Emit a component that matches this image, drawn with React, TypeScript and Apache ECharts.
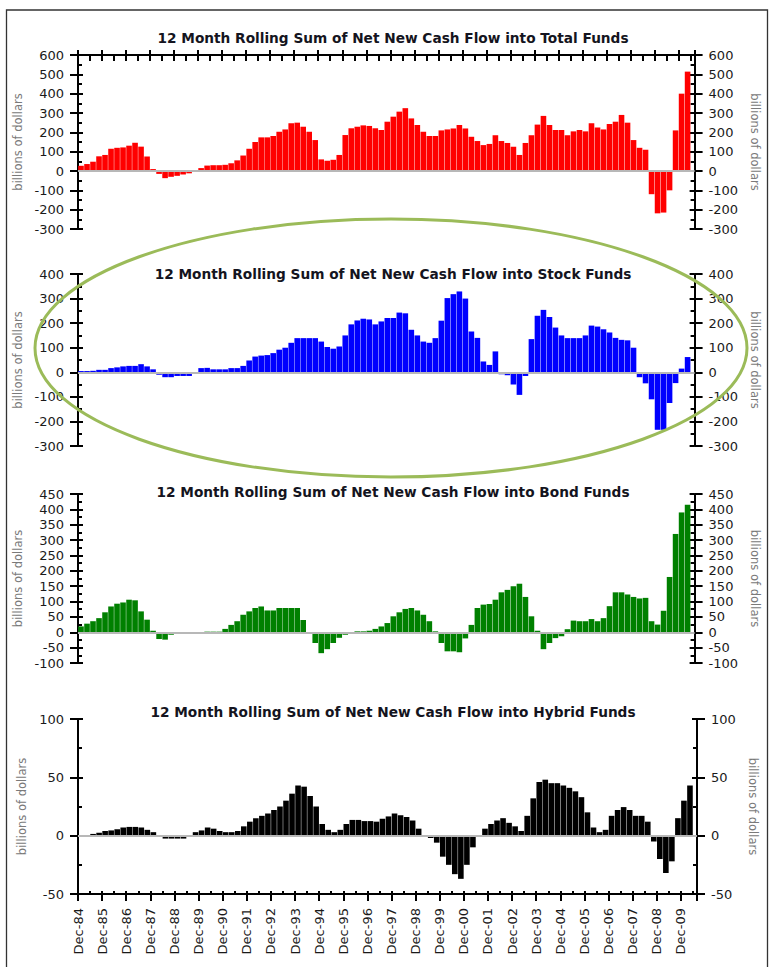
import React, { useEffect, useRef } from 'react';
import * as echarts from 'echarts';

// Quarterly readings, starting with the quarter after Dec-84 (billions of dollars)
const totalFunds = [
  27, 36, 48, 76, 83, 115, 120, 122, 131, 146,
  126, 75, 10, -15, -37, -30, -25, -18, -12, -5,
  15, 28, 30, 30, 32, 40, 55, 80, 115, 150,
  174, 174, 181, 203, 215, 247, 250, 229, 203, 160,
  60, 53, 58, 83, 186, 221, 229, 236, 233, 221,
  212, 255, 281, 307, 325, 272, 238, 203, 181, 181,
  210, 215, 220, 238, 220, 177, 155, 134, 140, 185,
  155, 145, 126, 83, 145, 185, 240, 285, 238, 212,
  212, 185, 205, 212, 205, 247, 225, 215, 243, 255,
  290, 250, 160, 120, 110, -120, -219, -215, -100, 210,
  400, 514,
];
const stockFunds = [
  5, 5, 6, 10, 10, 17, 20, 24, 26, 26,
  33, 24, 12, -10, -20, -20, -15, -15, -15, -5,
  17, 18, 12, 12, 12, 17, 17, 26, 48, 64,
  68, 70, 78, 92, 100, 120, 139, 139, 139, 139,
  125, 103, 96, 105, 150, 195, 211, 218, 215, 195,
  207, 221, 221, 243, 240, 173, 150, 125, 120, 139,
  210, 302, 318, 329, 300, 166, 140, 44, 30, 85,
  -8, -12, -50, -92, -15, 135, 230, 254, 225, 182,
  150, 139, 139, 139, 150, 190, 186, 175, 162, 140,
  132, 130, 100, -20, -45, -110, -234, -234, -125, -44,
  15, 62,
];
const bondFunds = [
  19, 28, 36, 46, 65, 84, 93, 97, 106, 104,
  68, 41, 5, -22, -24, -8, -5, -5, -2, -4,
  0, 2, 2, 2, 11, 24, 36, 57, 68, 79,
  84, 71, 71, 79, 79, 79, 79, 40, 0, -35,
  -68, -55, -35, -18, -8, -2, 3, 3, 5, 11,
  19, 30, 52, 65, 76, 79, 71, 57, 36, 3,
  -35, -62, -62, -65, -20, 24, 79, 90, 92, 106,
  130, 138, 150, 158, 115, 52, 5, -55, -35, -19,
  -13, 10, 38, 36, 36, 43, 36, 46, 85, 130,
  130, 123, 115, 110, 112, 36, 25, 70, 180, 320,
  390, 415,
];
const hybridFunds = [
  0, 0.5, 1.5, 2.5, 4, 4.5, 5.5, 7, 7.5, 7.5,
  7, 5, 3, 0.5, -2.5, -2.5, -2.5, -2.5, -1, 3,
  4.5, 7, 6, 4, 3, 3, 4, 8, 12, 15,
  17, 19, 22, 25, 30, 36, 43, 42, 34, 25,
  10, 5, 3, 5, 10, 13.5, 13.5, 12.5, 12.5, 12,
  14.5, 16.5, 19, 17.5, 16, 13, 6, 0, -2, -6,
  -18, -25, -33, -37, -25, -10, 0, 6, 10, 13,
  15, 11, 8, 4, 17, 32, 46, 48, 45, 45,
  43, 41, 38, 33, 20, 7, 3, 5, 17, 22,
  24.5, 22, 17, 17, 12, -5, -20, -32, -22, 15,
  30, 43,
];

const titles = [
  '12 Month Rolling Sum of Net New Cash Flow into Total Funds',
  '12 Month Rolling Sum of Net New Cash Flow into Stock Funds',
  '12 Month Rolling Sum of Net New Cash Flow into Bond Funds',
  '12 Month Rolling Sum of Net New Cash Flow into Hybrid Funds',
];
const yRanges = [
  [-300, 600, 100],
  [-300, 400, 100],
  [-100, 450, 50],
  [-50, 100, 50],
];
const axisName = 'billions of dollars';
const monthsSpan = 308; // Dec-84 .. mid-2010 in months
const firstYear = 84;

const FONT = 'DejaVu Sans';

const panels = [
  { data: totalFunds, color: '#ff0000', top: 55, height: 174, right: 72, titleTop: 26, xMode: 'top' },
  { data: stockFunds, color: '#0000ff', top: 274, height: 172, right: 71, titleTop: 262, xMode: 'none' },
  { data: bondFunds, color: '#008000', top: 494, height: 169, right: 72, titleTop: 480, xMode: 'none' },
  { data: hybridFunds, color: '#000000', top: 719, height: 175, right: 72, titleTop: 700, xMode: 'bottom' },
];

function buildOption() {
  const grid: any[] = [];
  const xAxis: any[] = [];
  const yAxis: any[] = [];
  const series: any[] = [];
  const title: any[] = [];

  const black = { color: '#000', width: 2 };

  panels.forEach((p, pi) => {
    grid.push({ left: 78, right: p.right, top: p.top, height: p.height, containLabel: false });
    title.push({
      text: titles[pi],
      left: 388,
      top: p.titleTop,
      textAlign: 'center',
      textStyle: { fontFamily: FONT, fontSize: 13.7, fontWeight: 'bold', color: '#141420' },
    });

    const [yMin, yMax, yInt] = yRanges[pi];
    const mainX = xAxis.length;
    const xBase = {
      type: 'value',
      gridIndex: pi,
      min: 0,
      max: monthsSpan,
      interval: 12,
      splitLine: { show: false },
    };
    if (p.xMode === 'none') {
      xAxis.push({ ...xBase, show: false });
    } else {
      const pos = p.xMode === 'top' ? 'top' : 'bottom';
      xAxis.push({
        ...xBase,
        position: pos,
        axisLine: { show: true, onZero: false, lineStyle: black },
        axisTick: { show: true, inside: false, length: pos === 'top' ? 5 : 7, lineStyle: black },
        minorTick: { show: false },
        axisLabel:
          pos === 'bottom'
            ? {
                show: true,
                rotate: 90,
                margin: 14,
                fontFamily: FONT,
                fontSize: 13,
                color: '#1a1a1a',
                formatter: (v: number) => {
                  if (v % 12 !== 0) return '';
                  const yy = (firstYear + v / 12) % 100;
                  return 'Dec-' + String(yy).padStart(2, '0');
                },
              }
            : { show: false },
      });
      xAxis.push({
        ...xBase,
        position: pos,
        axisLine: { show: false, onZero: false },
        axisTick: { show: true, inside: true, length: pos === 'top' ? 6 : 3, lineStyle: black },
        minorTick: { show: true, splitNumber: 2, length: pos === 'top' ? 6 : 3, lineStyle: black },
        axisLabel: { show: false },
      });
    }

    const mainY = yAxis.length;
    const yBase = {
      type: 'value',
      gridIndex: pi,
      min: yMin,
      max: yMax,
      interval: yInt,
      splitLine: { show: false },
    };
    const labelStyle = { fontFamily: FONT, fontSize: 13, color: '#1a1a1a', margin: 14 };
    const nameStyle = { fontFamily: FONT, fontSize: 11.5, color: '#7a7a7a' };
    // left outer
    yAxis.push({
      ...yBase,
      position: 'left',
      axisLine: { show: true, onZero: false, lineStyle: black },
      axisTick: { show: true, inside: false, length: 8, lineStyle: black },
      minorTick: { show: false },
      axisLabel: { show: true, ...labelStyle },
      name: axisName,
      nameLocation: 'middle',
      nameGap: 43,
      nameTextStyle: nameStyle,
    });
    // left inner
    yAxis.push({
      ...yBase,
      position: 'left',
      axisLine: { show: false, onZero: false },
      axisTick: { show: true, inside: true, length: 5, lineStyle: black },
      minorTick: { show: true, splitNumber: 2, length: 4, lineStyle: black },
      axisLabel: { show: false },
    });
    // right outer
    yAxis.push({
      ...yBase,
      position: 'right',
      axisLine: { show: true, onZero: false, lineStyle: black },
      axisTick: { show: true, inside: false, length: 8, lineStyle: black },
      minorTick: { show: false },
      axisLabel: { show: true, ...labelStyle },
      name: axisName,
      nameLocation: 'middle',
      nameGap: 45,
      nameRotate: -90,
      nameTextStyle: nameStyle,
    });
    // right inner
    yAxis.push({
      ...yBase,
      position: 'right',
      axisLine: { show: false, onZero: false },
      axisTick: { show: true, inside: true, length: 5, lineStyle: black },
      minorTick: { show: true, splitNumber: 2, length: 4, lineStyle: black },
      axisLabel: { show: false },
    });

    series.push({
      type: 'bar',
      xAxisIndex: mainX,
      yAxisIndex: mainY,
      barWidth: 5.6,
      itemStyle: { color: p.color },
      data: p.data.map((v, i) => [3 * i + 1.5, v]),
      markLine: {
        silent: true,
        symbol: 'none',
        label: { show: false },
        lineStyle: { color: '#b8b8b8', width: 2, type: 'solid' },
        data: [{ yAxis: 0 }],
      },
    });
  });

  return {
    animation: false,
    backgroundColor: '#ffffff',
    title,
    grid,
    xAxis,
    yAxis,
    series,
    graphic: [
      {
        type: 'rect',
        shape: { x: 6.5, y: 10, width: 761, height: 990 },
        style: { fill: 'none', stroke: '#333', lineWidth: 1.3 },
        z: 100,
        silent: true,
      },
      {
        type: 'ellipse',
        shape: { cx: 391, cy: 348, rx: 356, ry: 129 },
        style: { fill: 'none', stroke: '#9bbb59', lineWidth: 3 },
        z: 100,
        silent: true,
      },
    ],
  };
}

export default function App() {
  const ref = useRef<HTMLDivElement>(null);
  useEffect(() => {
    if (!ref.current) return;
    const chart = echarts.init(ref.current, undefined, { renderer: 'svg' });
    chart.setOption(buildOption() as any);
    return () => chart.dispose();
  }, []);
  return (
    <div
      ref={ref}
      style={{ position: 'absolute', left: 0, top: 0, width: 769, height: 967, background: '#fff' }}
    />
  );
}
